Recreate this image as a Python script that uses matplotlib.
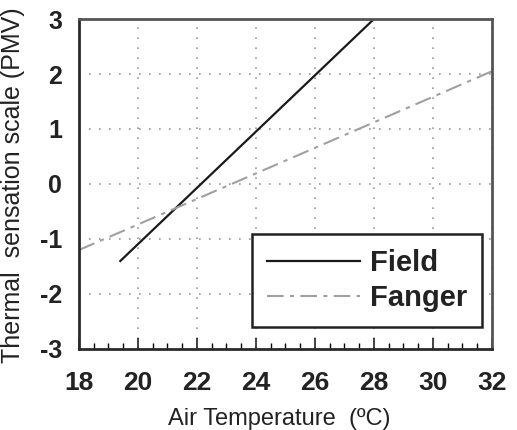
import matplotlib
matplotlib.use('Agg')
import matplotlib.pyplot as plt
from matplotlib.ticker import MultipleLocator

# Dati
fieldTemp = [19.4, 28.0]
fieldPmv = [-1.4, 3.0]
fangerTemp = [18.0, 32.0]
fangerPmv = [-1.2, 2.05]

xTicks = [18, 20, 22, 24, 26, 28, 30, 32]
yTicks = [-3, -2, -1, 0, 1, 2, 3]

plt.rcParams['font.family'] = ['Liberation Sans', 'DejaVu Sans']
plt.rcParams['axes.unicode_minus'] = False

fig = plt.figure(figsize=(5.17, 4.30), dpi=100)
ax = fig.add_axes([0.1528, 0.1884, 0.7988, 0.7674])

ax.plot(fieldTemp, fieldPmv, color='#1a1a1a', lw=1.6, label='Field')
ax.plot(fangerTemp, fangerPmv, color='#a0a0a0', lw=1.5,
        linestyle=(0, (8, 3, 2, 3)), label='Fanger')

ax.set_xlim(18, 32)
ax.set_ylim(-3, 3)
ax.set_xticks(xTicks)
ax.set_yticks(yTicks)
ax.xaxis.set_minor_locator(MultipleLocator(0.5))

ax.grid(True, which='major', color='#9a9a9a', linestyle=(0, (1, 5)), lw=1.2)

ax.tick_params(axis='x', which='major', direction='in', length=8, width=1.2,
               labelsize=19, pad=16, colors='#222222')
ax.tick_params(axis='x', which='minor', direction='in', length=4, width=1)
ax.tick_params(axis='y', which='major', length=0, labelsize=18, pad=12,
               colors='#222222')
for lab in ax.get_xticklabels() + ax.get_yticklabels():
    lab.set_fontweight('bold')

for side in ['left', 'bottom']:
    ax.spines[side].set_linewidth(2.0)
    ax.spines[side].set_color('#2a2a2a')
for side in ['top', 'right']:
    ax.spines[side].set_linewidth(2.0)
    ax.spines[side].set_color('#555555')

ax.set_ylabel('Thermal  sensation scale (PMV)', fontsize=18, color='#222222')
ax.yaxis.set_label_coords(-0.131, 0.497)

fig.text(0.54, 0.0, 'Air Temperature  (ºC)', fontsize=17, color='#222222',
         ha='center', va='bottom')

leg = ax.legend(loc='lower right', bbox_to_anchor=(0.976, 0.067),
                borderaxespad=0, handlelength=3.2, handletextpad=0.35,
                borderpad=0.5, labelspacing=0.25, fancybox=False,
                framealpha=1, edgecolor='#222222',
                prop={'weight': 'bold', 'size': 21})
leg.get_frame().set_linewidth(1.8)
for t in leg.get_texts():
    t.set_color('#222222')

fig.savefig('out.png', dpi=100)
